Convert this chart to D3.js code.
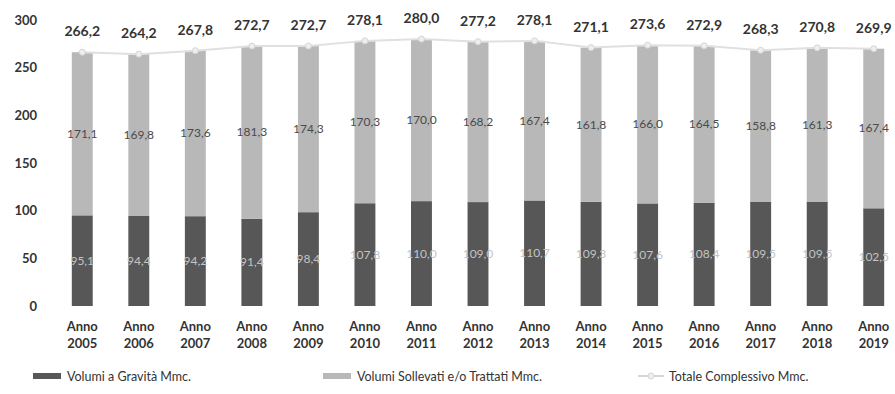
<!DOCTYPE html>
<html><head><meta charset="utf-8">
<script src="https://cdn.jsdelivr.net/npm/d3@7"></script>
<style>body{margin:0;background:#fff}svg{display:block}</style>
</head><body>
<svg id="c" width="895" height="394"></svg>
<script>
const years = ["2005","2006","2007","2008","2009","2010","2011","2012","2013","2014","2015","2016","2017","2018","2019"];
const gravita = [95.1,94.4,94.2,91.4,98.4,107.8,110.0,109.0,110.7,109.3,107.6,108.4,109.5,109.5,102.5];
const sollevati = [171.1,169.8,173.6,181.3,174.3,170.3,170.0,168.2,167.4,161.8,166.0,164.5,158.8,161.3,167.4];
const totale = [266.2,264.2,267.8,272.7,272.7,278.1,280.0,277.2,278.1,271.1,273.6,272.9,268.3,270.8,269.9];
const yTicks = [0,50,100,150,200,250,300];
const seriesNames = ["Volumi a Gravità Mmc.","Volumi Sollevati e/o Trattati Mmc.","Totale Complessivo Mmc."];

const fmt = v => v.toFixed(1).replace(".", ",");
const svg = d3.select("#c");
const font = "Lato, 'Open Sans', sans-serif";
const x = d3.scaleBand().domain(years).range([54, 902]).paddingInner(0.63).paddingOuter(0.315);
const y = d3.scaleLinear().domain([0, 300]).range([306, 20]);

const yAxis = svg.append("g").attr("transform","translate(37,0)")
  .call(d3.axisLeft(y).tickValues(yTicks).tickSize(0).tickPadding(0).tickFormat(d3.format("d")));
yAxis.select(".domain").remove();
yAxis.selectAll("text").attr("font-family", font).attr("font-size", 13).attr("font-weight", 700).attr("fill", "#333");

const dark = "#575757", light = "#b8b8b8";
const g = svg.append("g");
years.forEach((yr, i) => {
  g.append("rect").attr("x", x(yr)).attr("width", x.bandwidth())
    .attr("y", y(gravita[i])).attr("height", y(0) - y(gravita[i])).attr("fill", dark);
  g.append("rect").attr("x", x(yr)).attr("width", x.bandwidth())
    .attr("y", y(gravita[i] + sollevati[i])).attr("height", y(gravita[i]) - y(gravita[i] + sollevati[i])).attr("fill", light);
});

// total line
const cx = d => x(d) + x.bandwidth() / 2;
svg.append("path").datum(years)
  .attr("d", d3.line().x(d => cx(d)).y((d, i) => y(totale[i])))
  .attr("fill", "none").attr("stroke", "#e0e0e0").attr("stroke-width", 2);
svg.selectAll(".mk").data(years).join("circle")
  .attr("cx", d => cx(d)).attr("cy", (d, i) => y(totale[i])).attr("r", 3)
  .attr("fill", "#eeeeee").attr("stroke", "#d6d6d6");

// labels
svg.selectAll(".tl").data(years).join("text")
  .attr("x", d => cx(d)).attr("y", (d, i) => y(totale[i]) - 16)
  .attr("text-anchor", "middle").attr("font-family", font).attr("font-size", 14).attr("font-weight", 700)
  .attr("fill", "#333").text((d, i) => fmt(totale[i]));
svg.selectAll(".sl").data(years).join("text")
  .attr("x", d => cx(d)).attr("y", (d, i) => y(gravita[i] + sollevati[i] / 2) + 4)
  .attr("text-anchor", "middle").attr("font-family", font).attr("font-size", 12)
  .attr("fill", "#4a4a4a").text((d, i) => fmt(sollevati[i]));
svg.selectAll(".gl").data(years).join("text")
  .attr("x", d => cx(d)).attr("y", (d, i) => y(gravita[i] / 2) + 4)
  .attr("text-anchor", "middle").attr("font-family", font).attr("font-size", 12)
  .attr("fill", "#c4c4c4").text((d, i) => fmt(gravita[i]));

// x labels
const xl = svg.selectAll(".xl").data(years).join("text")
  .attr("text-anchor", "middle").attr("font-family", font).attr("font-size", 13).attr("font-weight", 700).attr("fill", "#333");
xl.append("tspan").attr("x", d => cx(d)).attr("y", 331).text("Anno");
xl.append("tspan").attr("x", d => cx(d)).attr("y", 348).text(d => d);

// legend
const ly = 377;
const lg = svg.append("g").attr("font-family", font).attr("font-size", 12.5).attr("fill", "#333");
lg.append("rect").attr("x", 33).attr("y", ly - 4).attr("width", 28).attr("height", 6).attr("fill", dark);
lg.append("text").attr("x", 67).attr("y", ly + 4).text(seriesNames[0]);
lg.append("rect").attr("x", 323).attr("y", ly - 4).attr("width", 28).attr("height", 6).attr("fill", light);
lg.append("text").attr("x", 357).attr("y", ly + 4).text(seriesNames[1]);
lg.append("line").attr("x1", 638).attr("x2", 664).attr("y1", ly - 1).attr("y2", ly - 1).attr("stroke", "#d6d6d6").attr("stroke-width", 2);
lg.append("circle").attr("cx", 651).attr("cy", ly - 1).attr("r", 3).attr("fill", "#eeeeee").attr("stroke", "#d6d6d6");
lg.append("text").attr("x", 669).attr("y", ly + 4).text(seriesNames[2]);
</script>
</body></html>
